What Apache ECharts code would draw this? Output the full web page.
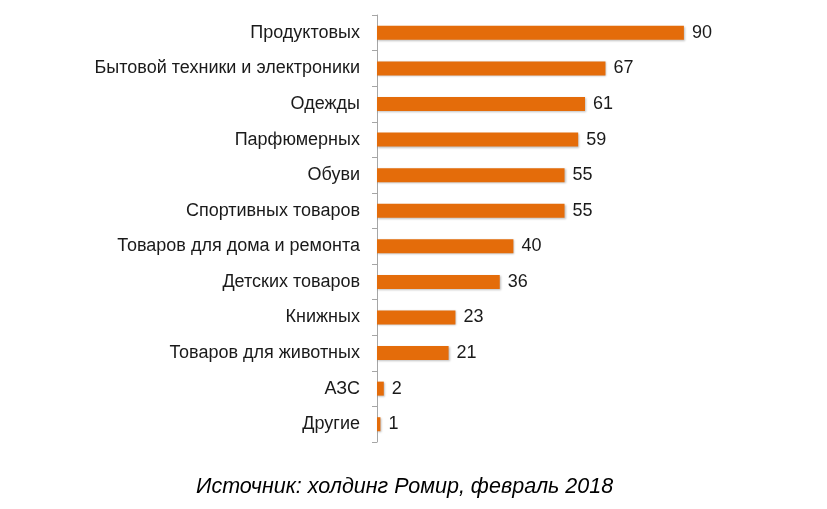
<!DOCTYPE html>
<html><head><meta charset="utf-8">
<script src="https://cdn.jsdelivr.net/npm/echarts@6/dist/echarts.min.js"></script>
<style>html,body{margin:0;padding:0;background:#fff}#c{width:827px;height:509px}</style>
</head><body><div id="c"></div>
<script>
const categories = ["Продуктовых","Бытовой техники и электроники","Одежды","Парфюмерных","Обуви","Спортивных товаров","Товаров для дома и ремонта","Детских товаров","Книжных","Товаров для животных","АЗС","Другие"];
const values = [90,67,61,59,55,55,40,36,23,21,2,1];
const sourceText = "Источник: холдинг Ромир, февраль 2018";
const chart = echarts.init(document.getElementById('c'));
chart.setOption({
  animation:false,
  grid:{left:377,top:15,width:341,height:427,containLabel:false},
  xAxis:{type:'value',min:0,max:100,show:false},
  yAxis:{type:'category',inverse:true,data:categories,
    axisLine:{show:true,lineStyle:{color:'#a6a6a6',width:1}},
    axisTick:{show:true,length:5,lineStyle:{color:'#a6a6a6'}},
    axisLabel:{margin:17,fontFamily:'Liberation Sans, Arial',fontSize:18,color:'#1a1a1a'}},
  series:[{type:'bar',data:values,barWidth:14,
    itemStyle:{color:'#E46C0A',shadowColor:'rgba(0,0,0,0.25)',shadowBlur:2,shadowOffsetX:1,shadowOffsetY:1},
    label:{show:true,position:'right',distance:8,fontFamily:'Liberation Sans, Arial',fontSize:18,color:'#1a1a1a'}}],
  graphic:[{type:'text',left:196,top:476,style:{text:sourceText,font:'italic 21.5px "Liberation Sans", Arial',fill:'#000'}}]
});
</script></body></html>
